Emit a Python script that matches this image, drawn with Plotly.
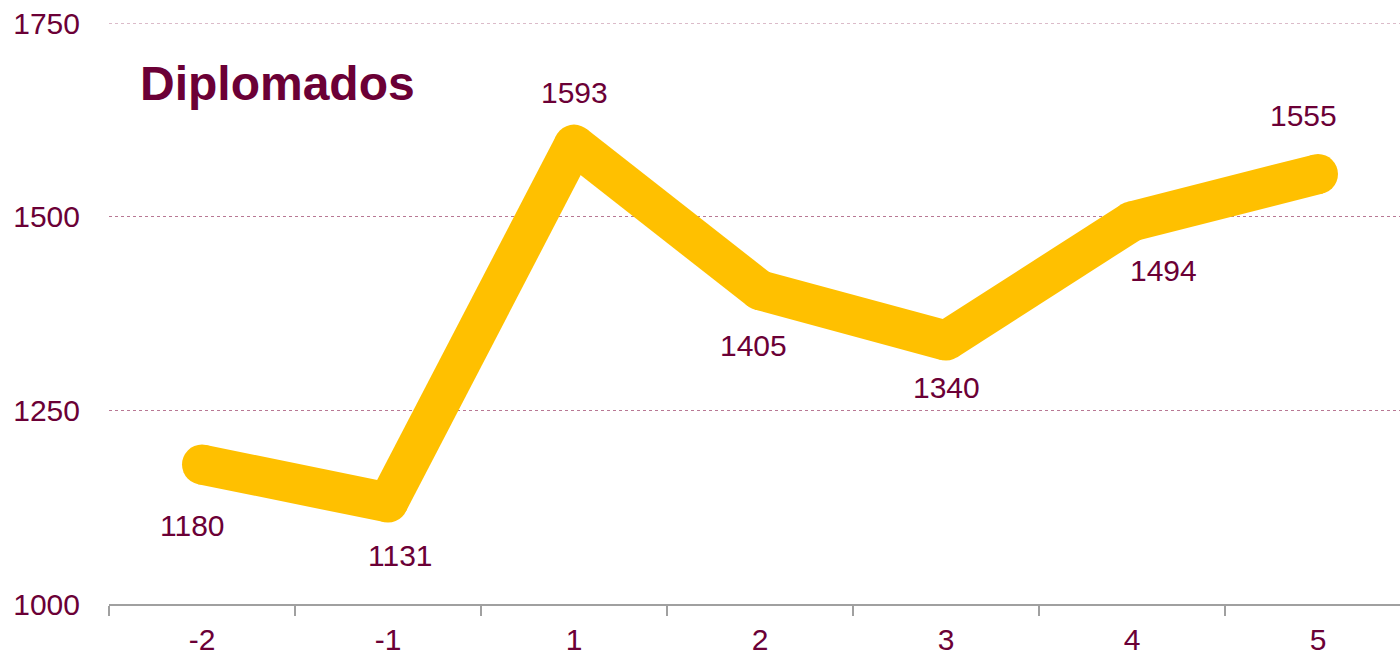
import plotly.graph_objects as go

# ---- data ----
categories = ["-2", "-1", "1", "2", "3", "4", "5"]
diplomados = [1180, 1131, 1593, 1405, 1340, 1494, 1555]
y_ticks = [1000, 1250, 1500, 1750]
title_text = "Diplomados"

# ---- style ----
MAROON = "#6B0036"
YELLOW = "#FFC000"
GRID = "#B87894"
FONT = "Liberation Sans, Arial, sans-serif"
LINE_W = 40
label_shift_x = [-10, 12, 0, -7, 0, 31, -15]
label_shift_y = [-61, -53, 52, -55, -47, -49, 59]

# split the line into separate segments so the joins are rounded by markers
seg_x, seg_y = [], []
for i in range(len(categories) - 1):
    seg_x += [categories[i], categories[i + 1], None]
    seg_y += [diplomados[i], diplomados[i + 1], None]

fig = go.Figure()
fig.add_trace(go.Scatter(
    x=seg_x, y=seg_y, mode="lines", connectgaps=False,
    line=dict(color=YELLOW, width=LINE_W),
    hoverinfo="skip", showlegend=False,
))
fig.add_trace(go.Scatter(
    x=categories, y=diplomados, mode="markers",
    marker=dict(color=YELLOW, size=LINE_W, line=dict(width=0)),
    hoverinfo="skip", showlegend=False,
))

annotations = []
for i, (v, dx, dy) in enumerate(zip(diplomados, label_shift_x, label_shift_y)):
    annotations.append(dict(
        x=i, y=v, xref="x", yref="y", text=str(v), showarrow=False,
        xshift=dx, yshift=dy, xanchor="center", yanchor="middle",
        font=dict(family=FONT, size=30, color=MAROON),
    ))

plot_w = 1400 - 109
plot_h = 655 - 23 - 51
annotations.append(dict(
    x=(138 - 109) / plot_w, y=1 - (84 - 23) / plot_h,
    xref="paper", yref="paper", text="<b>%s</b>" % title_text,
    showarrow=False, xanchor="left", yanchor="middle",
    font=dict(family=FONT, size=48, color=MAROON),
))

fig.update_layout(
    width=1400, height=655,
    margin=dict(l=109, r=0, t=23, b=51),
    paper_bgcolor="white", plot_bgcolor="white",
    font=dict(family=FONT, size=30, color=MAROON),
    annotations=annotations,
    shapes=[dict(
        type="line", xref="paper", x0=0, x1=1, yref="y",
        y0=y_ticks[-1], y1=y_ticks[-1],
        line=dict(color=GRID, width=1, dash="dot"), layer="below",
    )],
    xaxis=dict(
        type="category", categoryorder="array", categoryarray=categories,
        range=[-0.5, -0.5 + plot_w / 186.0],
        showgrid=False, zeroline=False,
        showline=True, linecolor="#A0A0A0", linewidth=2,
        ticks="outside", tickson="boundaries", ticklen=10, tickwidth=2, tickcolor="#A0A0A0",
        tickfont=dict(family=FONT, size=30, color=MAROON),
        ticklabelstandoff=8,
    ),
    yaxis=dict(
        range=[1000, 1750], tickvals=y_ticks,
        showgrid=True, gridcolor=GRID, gridwidth=1, griddash="dot",
        zeroline=False, showline=False, ticks="",
        tickfont=dict(family=FONT, size=30, color=MAROON),
        ticklabelstandoff=28,
    ),
)

fig.write_html(
    "out.html",
    config={"displayModeBar": False},
    post_script="document.body.style.margin='0';document.body.style.overflow='hidden';",
)
